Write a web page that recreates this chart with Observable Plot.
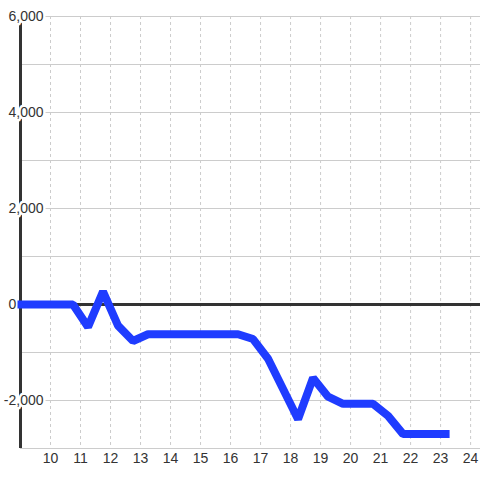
<!DOCTYPE html>
<html><head><meta charset="utf-8">
<script src="https://cdn.jsdelivr.net/npm/d3@7"></script>
<script src="https://cdn.jsdelivr.net/npm/@observablehq/plot@0.6"></script>
<style>html,body{margin:0;padding:0;background:#fff;} svg{display:block}</style>
</head><body><div id="chart"></div>
<script>
const hours  = [8.9, 9.25, 9.75, 10.25, 10.75, 11.25, 11.75, 12.25, 12.75, 13.25, 13.75, 14.25, 14.75, 15.25, 15.75, 16.25, 16.75, 17.25, 17.75, 18.25, 18.75, 19.25, 19.75, 20.25, 20.75, 21.25, 21.75, 22.25, 22.75, 23.3];
const values = [0, 0, 0, 0, 0, -470, 270, -440, -760, -620, -620, -620, -620, -620, -620, -620, -720, -1130, -1760, -2390, -1530, -1920, -2070, -2070, -2070, -2320, -2700, -2700, -2700, -2700];
const xTicks = [10, 11, 12, 13, 14, 15, 16, 17, 18, 19, 20, 21, 22, 23, 24];
const yTicks = [6000, 4000, 2000, 0, -2000];
const yTickLabels = ["6,000", "4,000", "2,000", "0", "-2,000"];
const yGrid = [-3000, -2000, -1000, 0, 1000, 2000, 3000, 4000, 5000, 6000];

const data = hours.map((h, i) => ({hour: h, value: values[i]}));
const yLab = yTicks.map((v, i) => ({v, label: yTickLabels[i]}));
const yLabWide = yLab.filter(d => d.v !== 0);
const yLabZero = yLab.filter(d => d.v === 0);

const chart = Plot.plot({
  width: 480, height: 480,
  marginLeft: 20, marginRight: 0, marginTop: 16, marginBottom: 32,
  x: {domain: [9, 24.33], axis: null},
  y: {domain: [-3000, 6000], axis: null},
  style: {fontFamily: "'Liberation Sans', Arial, sans-serif", fontSize: "14px", background: "#fff", overflow: "visible"},
  marks: [
    Plot.ruleY(yGrid, {stroke: "#ccc", strokeWidth: 1}),
    Plot.ruleX(xTicks, {stroke: "#ccc", strokeWidth: 1, strokeDasharray: "3,3"}),
    Plot.ruleX([9], {stroke: "#333", strokeWidth: 3, strokeOpacity: 1}),
    Plot.ruleY([0], {stroke: "#333", strokeWidth: 3, strokeOpacity: 1}),
    Plot.text(yLabWide, {y: "v", text: "label", frameAnchor: "left", dx: 23, textAnchor: "end", fontSize: 14, fill: "#333", stroke: "white", strokeWidth: 5, paintOrder: "stroke"}),
    Plot.text(yLabZero, {y: "v", text: "label", frameAnchor: "left", dx: -12, textAnchor: "start", fontSize: 14, fill: "#333", stroke: "white", strokeWidth: 5, paintOrder: "stroke"}),
    Plot.line(data, {x: "hour", y: "value", stroke: "#1f3cff", strokeWidth: 8, strokeLinejoin: "miter", strokeLinecap: "butt"}),
    Plot.text(xTicks, {x: d => d, frameAnchor: "bottom", dy: 14, text: d => String(d), fontSize: 14, fill: "#333"})
  ]
});
document.getElementById("chart").appendChild(chart);
</script>
</body></html>
